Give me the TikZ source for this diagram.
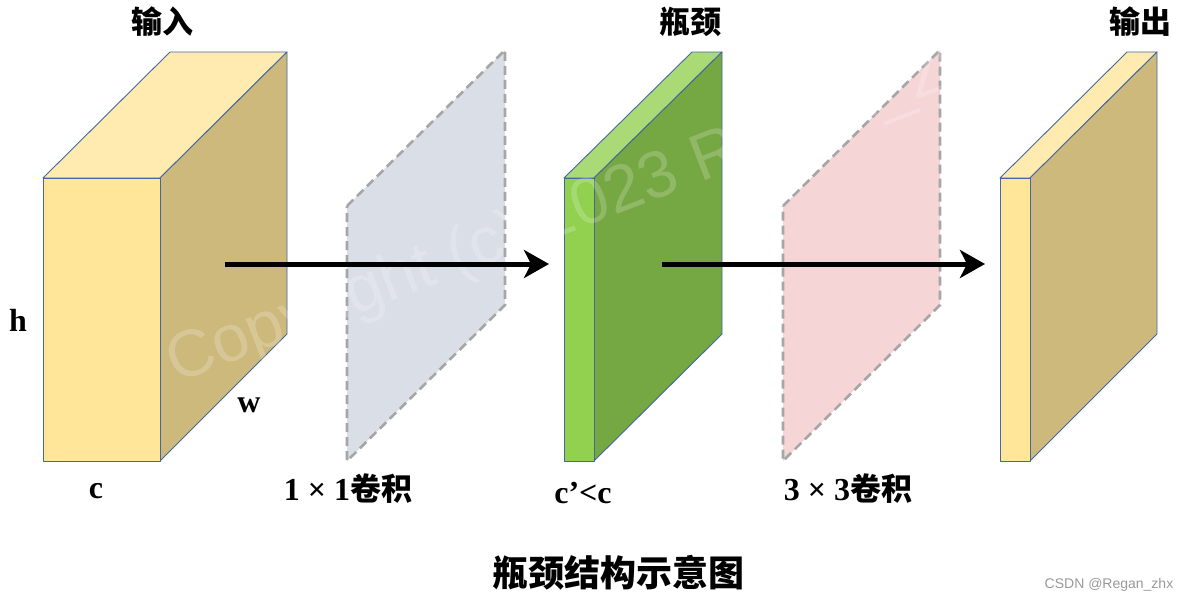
\documentclass[tikz,border=0pt]{standalone}
\usepackage{fontspec}
\setmainfont{Liberation Serif}
\newfontfamily\cjk{Noto Sans CJK SC}
\newfontfamily\wmfont{Liberation Sans}
\usetikzlibrary{arrows.meta}
\definecolor{yfront}{HTML}{FFE699}
\definecolor{ytop}{HTML}{FFEAAF}
\definecolor{yside}{HTML}{CDB97C}
\definecolor{gfront}{HTML}{92D050}
\definecolor{gtop}{HTML}{A9DA75}
\definecolor{gside}{HTML}{75A742}
\definecolor{edgeblue}{HTML}{44679E}
\definecolor{planegray}{HTML}{DADEE6}
\definecolor{planepink}{HTML}{F5D5D5}
\definecolor{dashgray}{HTML}{A6A6A6}
\tikzset{
  face/.style={draw=edgeblue, line width=0.9pt, line join=round},
  plane/.style={draw=dashgray, line width=2.6pt, dash pattern=on 9pt off 5pt},
  flowarrow/.style={line width=5pt, -{Stealth[length=25pt,width=28pt,inset=7pt]}},
  cjklabel/.style={font=\cjk\bfseries\fontsize{31}{31}\selectfont, anchor=base},
  latlabel/.style={font=\bfseries\fontsize{32}{32}\selectfont},
  mixlabel/.style={font=\bfseries\fontsize{32}{32}\selectfont, anchor=base},
}
\begin{document}
\begin{tikzpicture}[x=1pt,y=-1pt]
\useasboundingbox (0,0) rectangle (1191,600);
% input box
\draw[face, fill=ytop] (43,178) -- (170,52) -- (287,52) -- (160,178) -- cycle;
\draw[face, fill=yside] (160,178) -- (287,52) -- (287,334) -- (160,461) -- cycle;
\draw[face, fill=yfront] (43,178) rectangle (160,461);
% gray plane
\draw[plane, fill=planegray] (347,206) -- (505,50) -- (505,305) -- (347,461) -- cycle;
% green box
\draw[face, fill=gtop] (564,178) -- (692,52) -- (722,52) -- (594,178) -- cycle;
\draw[face, fill=gside] (594,178) -- (722,52) -- (722,334) -- (594,461) -- cycle;
\draw[face, fill=gfront] (564,178) rectangle (594,461);
% pink plane
\draw[plane, fill=planepink] (783,206) -- (940,50) -- (940,305) -- (783,461) -- cycle;
% output box
\draw[face, fill=ytop] (1000,178) -- (1127,52) -- (1157,52) -- (1030,178) -- cycle;
\draw[face, fill=yside] (1030,178) -- (1157,52) -- (1157,334) -- (1030,461) -- cycle;
\draw[face, fill=yfront] (1000,178) rectangle (1030,461);
% watermark (white, translucent)
\node[rotate=21, anchor=base west, text=white, text opacity=0.2, font=\wmfont\fontsize{66}{66}\selectfont, inner sep=0pt] (wm) at (176,384) {Copyright (c) 2023 Regan\_zhx};
% arrows
\coordinate (a1s) at (225,264);
\coordinate (a1e) at (549,264);
\coordinate (a2s) at (662,264);
\coordinate (a2e) at (985,264);
\draw[flowarrow] (a1s) -- (a1e);
\draw[flowarrow] (a2s) -- (a2e);
% labels
\node[cjklabel] (lin) at (162,33) {输入};
\node[cjklabel] (lneck) at (690,33) {瓶颈};
\node[cjklabel] (lout) at (1140,33) {输出};
\node[latlabel] (lh) at (18,320) {h};
\node[latlabel] (lw) at (249,405) {w};
\node[latlabel] (lc) at (96,491) {c};
\node[mixlabel] (l11) at (348,500) {1 × 1{\cjk\bfseries\fontsize{31}{31}\selectfont 卷积}};
\node[mixlabel] (lcc) at (583,503) {c’<c};
\node[mixlabel] (l33) at (848,500) {3 × 3{\cjk\bfseries\fontsize{31}{31}\selectfont 卷积}};
\node[anchor=base, font=\cjk\bfseries\fontsize{36}{36}\selectfont] (title) at (618,586) {瓶颈结构示意图};
\node[anchor=base, text=black!40, font=\wmfont\fontsize{14}{14}\selectfont] (csdn) at (1109,588) {CSDN @Regan\_zhx};
\end{tikzpicture}
\end{document}
